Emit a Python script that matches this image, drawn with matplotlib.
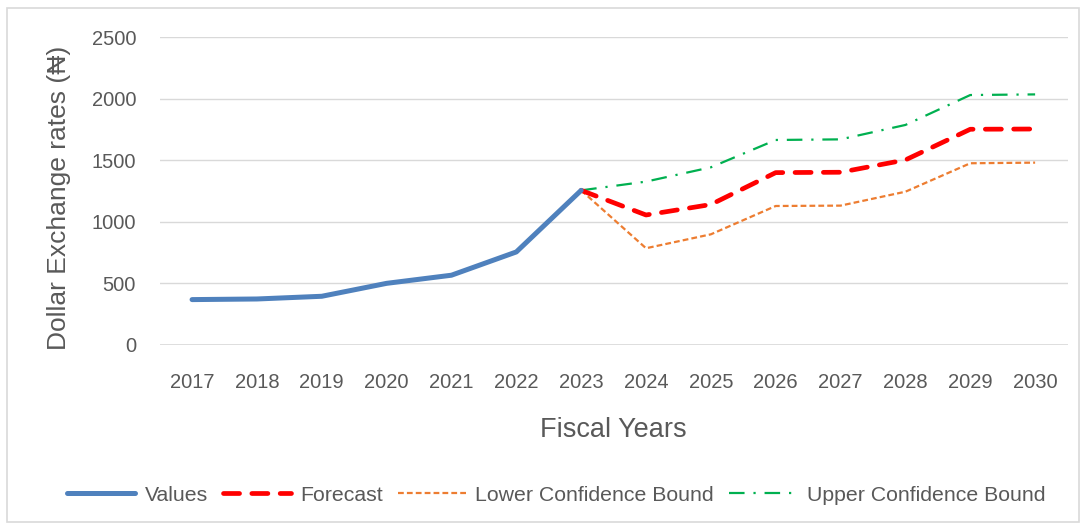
import matplotlib.pyplot as plt
from matplotlib.patches import Rectangle

plt.rcParams['font.family'] = ['Liberation Sans', 'DejaVu Sans']

years = ["2017", "2018", "2019", "2020", "2021", "2022", "2023",
         "2024", "2025", "2026", "2027", "2028", "2029", "2030"]
values = [368, 373, 395, 500, 566, 755, 1255]
forecast = [1255, 1055, 1140, 1399, 1402, 1502, 1751, 1753]
lower = [1255, 785, 898, 1128, 1131, 1244, 1475, 1480]
upper = [1255, 1326, 1442, 1664, 1669, 1786, 2029, 2034]

txt = "#595959"
grid = "#D9D9D9"

fig = plt.figure(figsize=(10.86, 5.25), dpi=100)
ax = fig.add_axes([0.147, 0.343, 0.836, 0.5865])

x_all = list(range(len(years)))
x_hist = x_all[:len(values)]
x_fc = x_all[len(values) - 1:]

ax.plot(x_hist, values, color="#4F81BD", lw=3.6, solid_capstyle="round",
        label="Values", zorder=4)
ax.plot(x_fc, forecast, color="#FF0000", lw=3.4, dashes=(3.4, 2.6),
        dash_capstyle="round", label="Forecast", zorder=3)
ax.plot(x_fc, lower, color="#ED7D31", lw=1.6, dashes=(2.6, 1.4),
        label="Lower Confidence Bound", zorder=2)
ax.plot(x_fc, upper, color="#00B050", lw=1.6, dashes=(7, 4, 1, 4),
        label="Upper Confidence Bound", zorder=2)

ax.set_xlim(-0.5, len(years) - 0.5)
ax.set_ylim(0, 2500)
ax.set_yticks(range(0, 2501, 500))
ax.set_xticks(x_all)
ax.set_xticklabels(years)
ax.yaxis.grid(True, color=grid, lw=1)
ax.axhline(0, color=grid, lw=1.2, zorder=1)
ax.set_axisbelow(True)
for s in ax.spines.values():
    s.set_visible(False)
ax.tick_params(length=0, labelsize=14.5, colors=txt)
ax.tick_params(axis="x", pad=20)
ax.tick_params(axis="y", pad=17)

ax.set_xlabel("Fiscal Years", fontsize=19.5, color=txt, labelpad=18)
ax.set_ylabel("Dollar Exchange rates (\u20a6)", fontsize=19, color=txt)
ax.yaxis.set_label_coords(-0.098, 0.477)

leg = fig.legend(loc="center", bbox_to_anchor=(0.512, 0.057), ncol=4,
                 frameon=False, fontsize=15.3, handlelength=3.2,
                 columnspacing=0.7, handletextpad=0.45)
for t in leg.get_texts():
    t.set_color(txt)

fig.patches.append(Rectangle((0.006, 0.006), 0.988, 0.978, transform=fig.transFigure,
                             fill=False, edgecolor=grid, lw=1.2))

fig.savefig("out.png", dpi=100)
